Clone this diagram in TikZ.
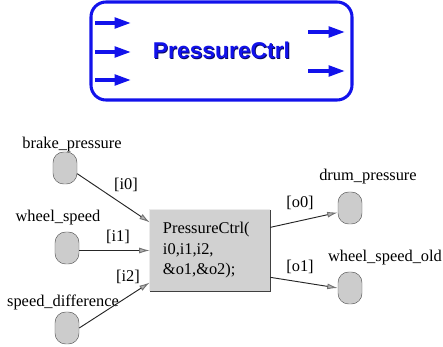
\documentclass[tikz,border=0pt]{standalone}
\usepackage{fontspec}
\setmainfont{Liberation Serif}
\newfontfamily\blocksans{Liberation Sans}
\usetikzlibrary{arrows.meta,calc}
\definecolor{ctrlblue}{RGB}{18,18,235}

\begin{document}
\begin{tikzpicture}[x=0.03cm,y=-0.03cm,
		txt/.style={inner sep=0pt,font=\fontsize{14}{17.5}\selectfont},
		port/.style={draw=black!65,fill=black!20,rounded corners=0.32cm,minimum width=0.72cm,minimum height=0.96cm,inner sep=0pt},
		wire/.style={black!85,line width=0.8pt,-{Latex[length=9pt,width=5pt,fill=black!30,color=black!55]}},
		pin/.style={ctrlblue,line width=3pt,-{Triangle[length=14pt,width=9pt]}}]
		\useasboundingbox (0,0) rectangle (443,347);
		
		% block symbol
		\node[draw=ctrlblue,line width=2.6pt,rounded corners=0.45cm,minimum width=7.83cm,minimum height=2.94cm,
			font=\blocksans\bfseries\fontsize{19.5}{22}\selectfont,text=ctrlblue] (blk) at (221.5,51)
			{\rlap{\hspace{0.7pt}\raisebox{-0.7pt}{\color{ctrlblue!40!black}PressureCtrl}}PressureCtrl};
		
		\foreach \y [count=\i] in {23,52,80}
		{
			\coordinate (blkin\i) at (95,\y);
			\coordinate (blkinend\i) at (131,\y);
			\draw[pin] (blkin\i) -- (blkinend\i);
		}
		\foreach \y [count=\i] in {32,71}
		{
			\coordinate (blkout\i) at (308,\y);
			\coordinate (blkoutend\i) at (345,\y);
			\draw[pin] (blkout\i) -- (blkoutend\i);
		}
		
		% call
		\node[txt,fill=black!18,minimum width=3.6cm,minimum height=2.43cm,text width=2.82cm,inner xsep=0.39cm,align=left] (ctrl) at (210,250.5)
			{PressureCtrl(\\i0,i1,i2,\\\&o1,\&o2);};
		\draw[black!75,line width=1pt] (ctrl.north east) -- (ctrl.south east) -- (ctrl.south west);
		\draw[black!8,line width=0.6pt] (ctrl.south west) -- (ctrl.north west) -- (ctrl.north east);
		
		% ports
		\node[port] (brake) at (65,168) {};
		\node[port] (wheel) at (67,248) {};
		\node[port] (diff) at (67,328) {};
		\node[port] (drum) at (350,208) {};
		\node[port] (wheelold) at (350,288) {};
		
		\node[txt] (brakelbl) at (72,145) {brake\_pressure};
		\node[txt] (wheellbl) at (58,218) {wheel\_speed};
		\node[txt] (difflbl) at (63,302) {speed\_difference};
		\node[txt] (drumlbl) at (368,177) {drum\_pressure};
		\node[txt] (wheeloldlbl) at (385,258) {wheel\_speed\_old};
		
		\draw[wire] (brake.-25) -- (ctrl.155);
		\draw[wire] (wheel.east |- ctrl.west) -- (ctrl.west);
		\draw[wire] (diff.east) -- (ctrl.208);
		\draw[wire] (ctrl.21) -- (drum.200);
		\draw[wire] (ctrl.-24) -- (wheelold.west);
		
		\node[txt] (i0lbl) at (126,185) {[i0]};
		\node[txt] (i1lbl) at (118,237) {[i1]};
		\node[txt] (i2lbl) at (128,277) {[i2]};
		\node[txt] (o0lbl) at (300,203) {[o0]};
		\node[txt] (o1lbl) at (300,267) {[o1]};
		
	\end{tikzpicture}
\end{document}
